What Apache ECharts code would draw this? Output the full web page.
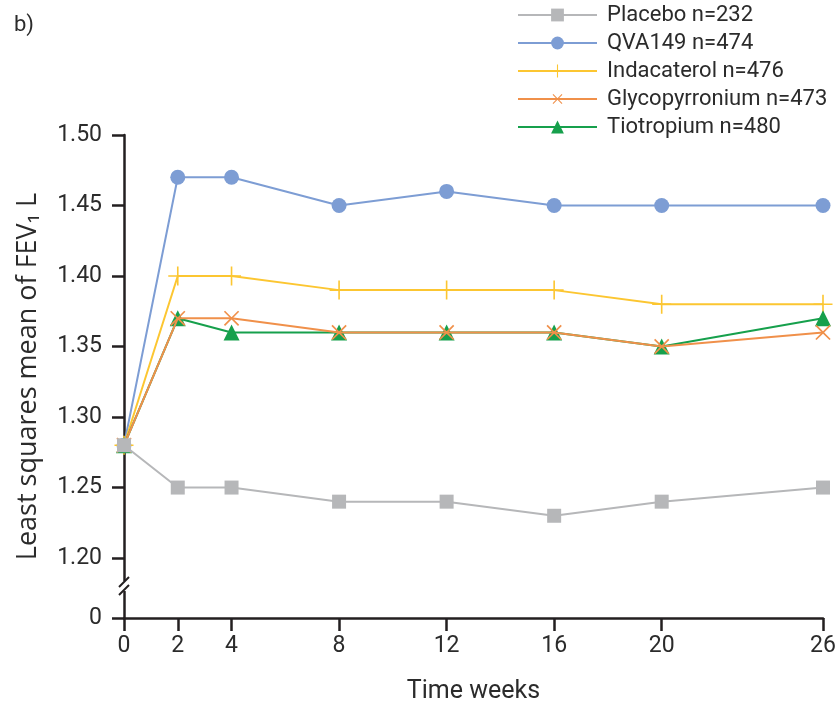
<!DOCTYPE html>
<html>
<head>
<meta charset="utf-8">
<script src="https://cdn.jsdelivr.net/npm/echarts@6/dist/echarts.min.js"></script>
<style>html,body{margin:0;padding:0;background:#fff;}#c{width:839px;height:704px;}</style>
</head>
<body>
<div id="c"></div>
<script>
// ---- data ----
const weeks = [0, 2, 4, 8, 12, 16, 20, 26];
const seriesNames = ['Placebo n=232', 'QVA149 n=474', 'Indacaterol n=476', 'Glycopyrronium n=473', 'Tiotropium n=480'];
const placebo      = [1.28, 1.25, 1.25, 1.24, 1.24, 1.23, 1.24, 1.25];
const qva149       = [1.28, 1.47, 1.47, 1.45, 1.46, 1.45, 1.45, 1.45];
const indacaterol  = [1.28, 1.40, 1.40, 1.39, 1.39, 1.39, 1.38, 1.38];
const glycopyrr    = [1.28, 1.37, 1.37, 1.36, 1.36, 1.36, 1.35, 1.36];
const tiotropium   = [1.28, 1.37, 1.36, 1.36, 1.36, 1.36, 1.35, 1.37];
const xTicks = [0, 2, 4, 8, 12, 16, 20, 26];
const yTicks = [1.20, 1.25, 1.30, 1.35, 1.40, 1.45, 1.50];
const yTickLabels = ['1.20', '1.25', '1.30', '1.35', '1.40', '1.45', '1.50'];
const yZeroLabel = '0';
// broken axis: the "0" sits at the bottom of the axis, below the break
const Y_BREAK_BOTTOM = 1.1575;

const AX = '#231f20';
const TXT = '#2b2b2b';
const PLUS = 'path://M9.15,0H10.85V9.15H20V10.85H10.85V20H9.15V10.85H0V9.15H9.15Z';

function pts(vals) { return weeks.map((w, i) => [w, vals[i]]); }

const chart = echarts.init(document.getElementById('c'));
const mk = (name, vals, color, symbol, size, rot, z) => ({
  name, type: 'line', data: pts(vals),
  symbol, symbolSize: size, symbolRotate: rot || 0,
  lineStyle: { color, width: 2 },
  itemStyle: { color },
  z: z,
  emphasis: { disabled: true },
  animation: false
});

chart.setOption({
  animation: false,
  title: { text: 'b)', left: 9, top: 9, textStyle: { fontFamily: 'Roboto', fontSize: 22, fontWeight: 'normal', color: TXT } },
  legend: {
    orient: 'vertical', left: 517, top: 4, padding: 0,
    itemWidth: 79, itemHeight: 16, itemGap: 6,
    textStyle: { fontFamily: 'Roboto', fontSize: 22, color: TXT, lineHeight: 22, padding: [0, 0, 0, 5] },
    data: seriesNames
  },
  grid: { left: 124, right: 16, top: 135, bottom: 86, containLabel: false, outerBoundsMode: 'none' },
  xAxis: {
    type: 'value', min: 0, max: 26,
    name: 'Time weeks', nameLocation: 'middle', nameGap: 61,
    nameTextStyle: { fontFamily: 'Roboto', fontSize: 25, color: TXT },
    axisLine: { show: true, lineStyle: { color: AX, width: 2.5 } },
    axisTick: { show: true, length: 13, lineStyle: { color: AX, width: 2.5 }, customValues: xTicks },
    axisLabel: { fontFamily: 'Roboto', fontSize: 23, color: TXT, margin: 17, customValues: xTicks },
    splitLine: { show: false }
  },
  yAxis: {
    type: 'value', min: Y_BREAK_BOTTOM, max: 1.5,
    name: 'Least squares mean of FEV\u2081 L', nameLocation: 'middle', nameGap: 82,
    nameTextStyle: { fontFamily: 'Open Sans', fontSize: 27, color: TXT },
    axisLine: { show: true, lineStyle: { color: AX, width: 2.5 } },
    axisTick: { show: true, length: 12, lineStyle: { color: AX, width: 2.5 }, customValues: [Y_BREAK_BOTTOM].concat(yTicks) },
    axisLabel: {
      fontFamily: 'Roboto', fontSize: 23, color: TXT, margin: 22,
      customValues: [Y_BREAK_BOTTOM].concat(yTicks),
      formatter: v => {
        if (Math.abs(v - Y_BREAK_BOTTOM) < 1e-6) return yZeroLabel;
        const i = yTicks.findIndex(t => Math.abs(t - v) < 1e-6);
        return i >= 0 ? yTickLabels[i] : '';
      }
    },
    splitLine: { show: false }
  },
  series: [
    mk(seriesNames[0], placebo, '#b6b7b9', 'rect', 14, 0, 6),
    mk(seriesNames[1], qva149, '#7d9dd4', 'circle', 15, 0, 2),
    mk(seriesNames[2], indacaterol, '#fcc631', PLUS, 19, 0, 2),
    mk(seriesNames[3], glycopyrr, '#f0904a', PLUS, 20, 45, 4),
    mk(seriesNames[4], tiotropium, '#16a04c', 'triangle', 16, 0, 3)
  ]
});

// axis-break marks "//" between 1.20 and 0
const p1 = chart.convertToPixel({ gridIndex: 0 }, [0, yTicks[0]]);
const p0 = chart.convertToPixel({ gridIndex: 0 }, [0, Y_BREAK_BOTTOM]);
const bx = p0[0], by = (p0[1] + p1[1]) / 2 - 2;
chart.setOption({
  graphic: [
    { type: 'rect', shape: { x: bx - 3, y: by - 5, width: 6, height: 10 }, style: { fill: '#fff' }, z: 100 },
    { type: 'line', shape: { x1: bx - 5, y1: by + 1, x2: bx + 5, y2: by - 9 }, style: { stroke: AX, lineWidth: 2 }, z: 101 },
    { type: 'line', shape: { x1: bx - 5, y1: by + 9, x2: bx + 5, y2: by - 1 }, style: { stroke: AX, lineWidth: 2 }, z: 101 }
  ]
});
</script>
</body>
</html>
